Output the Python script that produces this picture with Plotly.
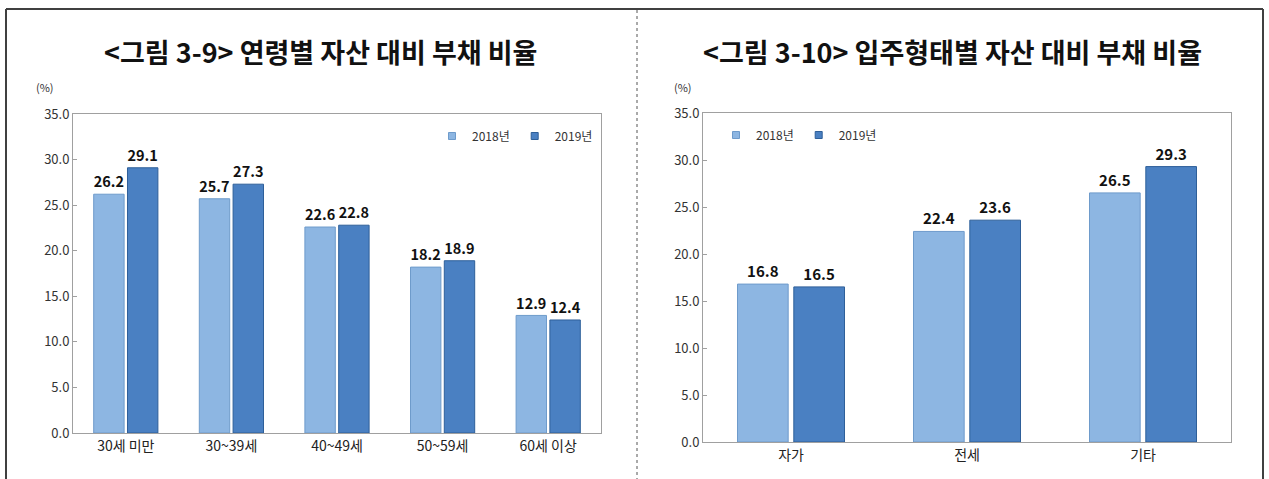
import plotly.graph_objects as go

# ---- data ----
age_categories = ["30세 미만", "30~39세", "40~49세", "50~59세", "60세 이상"]
age_2018 = [26.2, 25.7, 22.6, 18.2, 12.9]
age_2019 = [29.1, 27.3, 22.8, 18.9, 12.4]

tenure_categories = ["자가", "전세", "기타"]
tenure_2018 = [16.8, 22.4, 26.5]
tenure_2019 = [16.5, 23.6, 29.3]

series_names = ["2018년", "2019년"]
y_ticks = [0, 5, 10, 15, 20, 25, 30, 35]

title_left = "<그림 3-9> 연령별 자산 대비 부채 비율"
title_right = "<그림 3-10> 입주형태별 자산 대비 부채 비율"

W, H = 1269, 479
FONT = "Noto Sans CJK KR"
C18, C18L = "#8DB6E2", "#6E9BCB"
C19, C19L = "#4A80C2", "#2E5F99"

def px(x):
    return x / W

def py(y):
    return 1 - y / H

fig = go.Figure()

def add_pair(cats, v18, v19, xa, ya, legend):
    for name, vals, col, lcol in ((series_names[0], v18, C18, C18L),
                                  (series_names[1], v19, C19, C19L)):
        fig.add_trace(go.Bar(
            x=cats, y=vals, name=name, xaxis=xa, yaxis=ya, showlegend=False,
            marker=dict(color=col, line=dict(color=lcol, width=1)),
            texttemplate="<b>%{y:.1f}</b>", textposition="outside",
            textfont=dict(family=FONT, size=15, color="#111"),
            cliponaxis=False,
        ))
        # legend entry with a small square marker
        fig.add_trace(go.Scatter(
            x=[None], y=[None], name=name, xaxis=xa, yaxis=ya, legend=legend,
            mode="markers", marker=dict(symbol="square", size=7, color=col,
                                        line=dict(color=lcol, width=1)),
        ))

add_pair(age_categories, age_2018, age_2019, "x", "y", "legend")
add_pair(tenure_categories, tenure_2018, tenure_2019, "x2", "y2", "legend2")

axis_common = dict(showline=True, linecolor="#A0A0A0", linewidth=1, mirror=True,
                   showgrid=False, zeroline=False, automargin=False,
                   tickfont=dict(family=FONT, size=13, color="#333"))
yaxis_common = dict(axis_common, range=[0, 35], tickvals=y_ticks, tickformat=".1f",
                    ticks="inside", ticklen=4, tickcolor="#A0A0A0")
xtickfont = dict(family=FONT, size=14, color="#222")

legend_common = dict(orientation="h", xanchor="left", yanchor="middle",
                     font=dict(family=FONT, size=12, color="#333"),
                     bgcolor="rgba(0,0,0,0)", itemwidth=30, traceorder="normal",
                     tracegroupgap=0)

fig.update_layout(
    width=W, height=H,
    margin=dict(l=0, r=0, t=0, b=0, pad=0, autoexpand=False),
    paper_bgcolor="white", plot_bgcolor="white",
    barmode="group", bargap=0.36, bargroupgap=0.1,
    font=dict(family=FONT),
    xaxis=dict(axis_common, domain=[px(73), px(601)], anchor="y", tickfont=xtickfont),
    yaxis=dict(yaxis_common, domain=[py(433), py(114)], anchor="x"),
    xaxis2=dict(axis_common, domain=[px(703), px(1231)], anchor="y2", tickfont=xtickfont),
    yaxis2=dict(yaxis_common, domain=[py(442), py(113)], anchor="x2"),
    legend=dict(legend_common, x=px(432), y=py(136)),
    legend2=dict(legend_common, x=px(716), y=py(135)),
    showlegend=True,
)

# titles and unit labels
for txt, xc in ((title_left, 321), (title_right, 952)):
    fig.add_annotation(text=f"<b>{txt}</b>", x=px(xc), y=py(51), xref="paper", yref="paper",
                       xanchor="center", yanchor="middle", showarrow=False,
                       font=dict(family=FONT, size=27, color="#111"))
for xpos in (45, 683):
    fig.add_annotation(text="(%)", x=px(xpos), y=py(87), xref="paper", yref="paper",
                       xanchor="center", yanchor="middle", showarrow=False,
                       font=dict(family=FONT, size=11, color="#333"))

# outer frame and separator
frame = dict(color="#404040", width=2)
fig.add_shape(type="line", xref="paper", yref="paper", x0=px(6), x1=px(1263), y0=py(9), y1=py(9), line=frame)
fig.add_shape(type="line", xref="paper", yref="paper", x0=px(6), x1=px(6), y0=py(9), y1=py(482), line=frame)
fig.add_shape(type="line", xref="paper", yref="paper", x0=px(1263), x1=px(1263), y0=py(9), y1=py(482), line=frame)
fig.add_shape(type="line", xref="paper", yref="paper", x0=px(637), x1=px(637), y0=py(10), y1=py(482),
              line=dict(color="#555", width=1, dash="dot"))

fig.write_html("out.html", config={"displayModeBar": False},
               post_script="document.body.style.margin='0px';")
